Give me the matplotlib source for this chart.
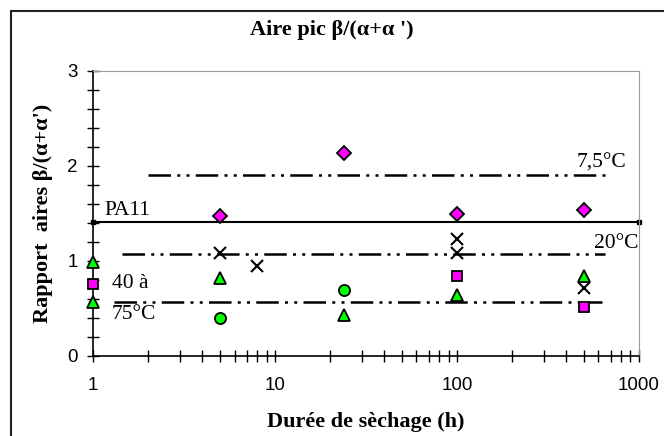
import numpy as np
import matplotlib
matplotlib.use('Agg')
import matplotlib.pyplot as plt
from matplotlib.ticker import FixedLocator, LogLocator, NullFormatter, FixedFormatter

serif = 'Liberation Serif'
sans = 'Liberation Sans'

# data
x_diam = [5, 24, 100, 500]
y_diam = [1.47, 2.13, 1.49, 1.54]
x_sq = [1, 100, 500]
y_sq = [0.76, 0.84, 0.51]
x_tri = [1, 1, 5, 24, 100, 500]
y_tri = [0.99, 0.57, 0.82, 0.43, 0.64, 0.84]
x_circ = [5, 24]
y_circ = [0.40, 0.69]
x_cross = [5, 8, 100, 100, 500]
y_cross = [1.08, 0.95, 1.23, 1.08, 0.71]

pa11 = 1.41
ref_levels = [1.90, 1.07, 0.57]
ref_start = [2.0, 1.45, 1.3]
ref_end = [650, 650, 630]

fig = plt.figure(figsize=(6.64, 4.36), dpi=100)
ax = fig.add_axes([0.140, 0.1835, 0.822, 0.6545])

# outer frame
fig.patches.append(plt.Rectangle((11 / 664, -0.05), 1.1, 1 - 11 / 436 + 0.05,
                                 transform=fig.transFigure, fill=False,
                                 edgecolor='#222222', linewidth=1.5))

ax.plot([1, 1000], [pa11, pa11], color='black', lw=1.5, marker='s', ms=3,
        clip_on=False, zorder=2)
dash = (0, (9, 2.5, 1.2, 2.5, 1.2, 2.5))
for lev, a, b in zip(ref_levels, ref_start, ref_end):
    ax.plot([a, b], [lev, lev], color='black', lw=1.8, linestyle=dash, zorder=2)

ax.plot(x_diam, y_diam, 'D', color='#FF00FF', mec='black', mew=1.3, ms=7, ls='none', zorder=4, clip_on=False)
ax.plot(x_sq, y_sq, 's', color='#FF00FF', mec='black', mew=1.3, ms=7.5, ls='none', zorder=4, clip_on=False)
ax.plot(x_tri, y_tri, '^', color='#00FF00', mec='black', mew=1.3, ms=9, ls='none', zorder=4, clip_on=False)
ax.plot(x_circ, y_circ, 'o', color='#00FF00', mec='black', mew=1.3, ms=8, ls='none', zorder=4, clip_on=False)
ax.plot(x_cross, y_cross, 'x', color='black', mew=1.5, ms=9, ls='none', zorder=4, clip_on=False)

ax.set_xscale('log')
ax.set_xlim(1, 1000)
ax.set_ylim(0, 3)
ax.xaxis.set_major_locator(FixedLocator([1, 10, 100, 1000]))
ax.xaxis.set_major_formatter(FixedFormatter(['1', '10', '100', '1000']))
ax.xaxis.set_minor_locator(LogLocator(base=10, subs=np.arange(2, 10)))
ax.xaxis.set_minor_formatter(NullFormatter())
ax.yaxis.set_major_locator(FixedLocator([0, 1, 2, 3]))
ax.yaxis.set_minor_locator(FixedLocator(np.arange(0, 3.01, 0.2)))

ax.tick_params(which='both', direction='inout', length=8, width=1, colors='black',
               labelsize=13.5, pad=7)
ax.tick_params(axis='x', which='major', pad=11)
for lab in ax.get_xticklabels() + ax.get_yticklabels():
    lab.set_family(sans)

ax.spines['left'].set_color('black')
ax.spines['bottom'].set_color('black')
ax.spines['left'].set_linewidth(1.2)
ax.spines['bottom'].set_linewidth(1.2)
ax.spines['top'].set_color('#999999')
ax.spines['right'].set_color('#999999')

ax.set_xlabel('Durée de sèchage (h)', family=serif, fontweight='bold', fontsize=16, labelpad=13)
ax.set_ylabel("Rapport  aires β/(α+α')", family=serif, fontweight='bold', fontsize=16, labelpad=10)
fig.text(0.5, 0.932, "Aire pic β/(α+α ')", family=serif, fontweight='bold', fontsize=16,
         ha='center', va='center')

tk = dict(family=serif, fontsize=15.5, va='baseline', clip_on=False)
ax.text(1.16, 1.48, 'PA11', **tk)
ax.text(457, 1.98, '7,5°C', **tk)
ax.text(564, 1.135, '20°C', **tk)
ax.text(1.27, 0.71, '40 à', **tk)
ax.text(1.27, 0.39, '75°C', **tk)

fig.savefig('out.png', dpi=100)
